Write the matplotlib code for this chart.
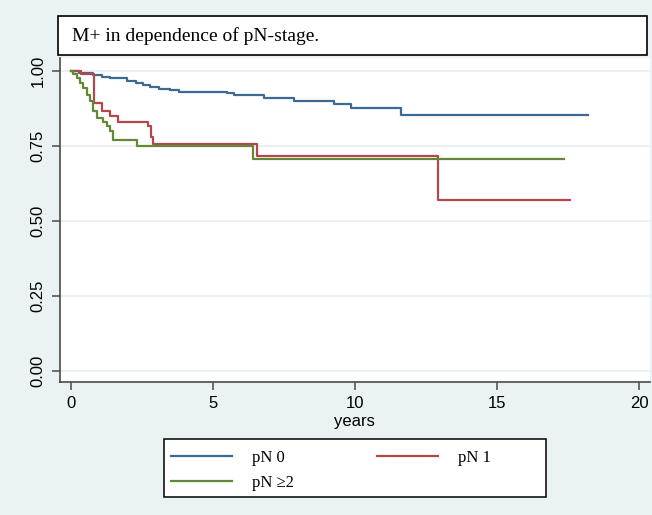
import numpy as np
import matplotlib
matplotlib.use("Agg")
import matplotlib.pyplot as plt
from matplotlib.patches import Rectangle

# Kaplan-Meier step values (time in years, survival)
t_pn0 = [0, 0.3, 0.8, 1.1, 1.4, 1.98, 2.3, 2.56, 2.8, 3.1, 3.5, 3.8, 5.5, 5.75,
         6.8, 7.85, 9.25, 9.87, 11.6, 18.2]
s_pn0 = [1.0, 0.993, 0.986, 0.98, 0.975, 0.967, 0.96, 0.952, 0.946, 0.941, 0.936,
         0.93, 0.925, 0.921, 0.91, 0.899, 0.888, 0.875, 0.852, 0.852]

t_pn1 = [0, 0.35, 0.84, 1.1, 1.39, 1.68, 2.71, 2.83, 2.91, 6.55, 12.9, 17.55]
s_pn1 = [1.0, 0.99, 0.892, 0.865, 0.848, 0.831, 0.815, 0.779, 0.755, 0.716, 0.571, 0.571]

t_pn2 = [0, 0.1, 0.22, 0.33, 0.45, 0.57, 0.69, 0.8, 0.92, 1.15, 1.27, 1.39, 1.5,
         2.33, 6.4, 17.33]
s_pn2 = [1.0, 0.988, 0.976, 0.96, 0.942, 0.92, 0.898, 0.865, 0.842, 0.831, 0.815,
         0.798, 0.77, 0.748, 0.707, 0.707]

labels = ['pN 0', 'pN 1', 'pN \u22652']
colors = ['#3d6a92', '#b4464e', '#608a36']
title = 'M+ in dependence of pN-stage.'
xticks = [0, 5, 10, 15, 20]
yticks = [0, 0.25, 0.5, 0.75, 1.0]

bg = '#EAF2F3'
W, H = 652, 515
fig = plt.figure(figsize=(W / 100, H / 100), dpi=100, facecolor=bg)
ax = fig.add_axes([59.5 / W, 1 - 382 / H, (650 - 59.5) / W, (382 - 58) / H])
ax.set_facecolor('white')

l0, = ax.step(t_pn0, s_pn0, where='post', color=colors[0], lw=1.6)
l1, = ax.step(t_pn1, s_pn1, where='post', color=colors[1], lw=1.6)
l2, = ax.step(t_pn2, s_pn2, where='post', color=colors[2], lw=1.6)

ax.set_xlim(-0.39, 20.37)
ax.set_ylim(-0.037, 1.043)
ax.set_xticks(xticks)
ax.set_yticks(yticks)
ax.set_yticklabels(['%.2f' % v for v in yticks], rotation=90, va='center')
ax.grid(axis='y', color='#E6EEF0', lw=1.2)
ax.set_axisbelow(True)

for side in ['top', 'right']:
    ax.spines[side].set_visible(False)
for side in ['left', 'bottom']:
    ax.spines[side].set_color('#4a4a4a')
    ax.spines[side].set_linewidth(1.2)
ax.tick_params(axis='both', colors='#4a4a4a', length=6, width=1.1,
               labelcolor='black', labelsize=12, pad=4)
for lab in ax.get_xticklabels() + ax.get_yticklabels():
    lab.set_family('Liberation Sans')
ax.set_xlabel('years', family='Liberation Sans', fontsize=12, labelpad=2)

# title box
fig.patches.append(Rectangle((58.3 / W, 1 - 55 / H), (647 - 58.3) / W, (55 - 15.7) / H,
                             transform=fig.transFigure, facecolor='white',
                             edgecolor='black', lw=1.2))
fig.text(72 / W, 1 - 36.5 / H, title, family='Liberation Serif', fontsize=14,
         va='center', ha='left')

# legend box (drawn separately, Stata style wide frame)
fig.patches.append(Rectangle((164 / W, 1 - 496.7 / H), (546 - 164) / W, (496.7 - 439.3) / H,
                             transform=fig.transFigure, facecolor='white',
                             edgecolor='black', lw=1.1))
leg = fig.legend([l0, l2, l1], [labels[0], labels[2], labels[1]], ncol=2,
                 loc='upper left', bbox_to_anchor=(171 / W, 1 - 450 / H),
                 frameon=False, borderpad=0, borderaxespad=0,
                 handlelength=3.65, handletextpad=1.2, columnspacing=5.0,
                 labelspacing=0.55,
                 prop={'family': 'Liberation Serif', 'size': 12})

fig.savefig('out.png', dpi=100, facecolor=bg)
